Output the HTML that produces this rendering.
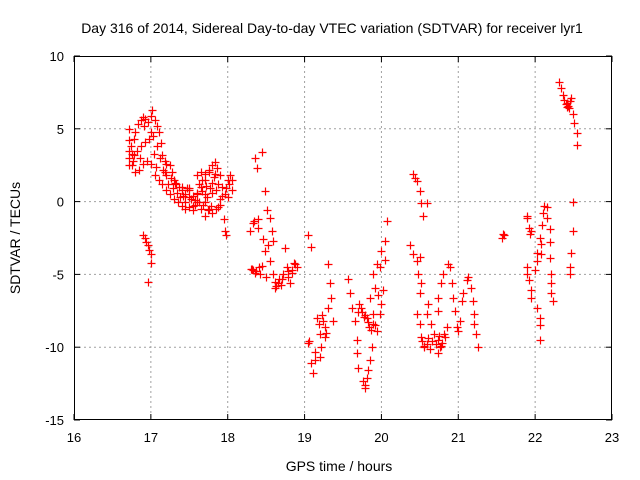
<!DOCTYPE html>
<html><head><meta charset="utf-8"><style>
html,body{margin:0;padding:0;background:#fff}
svg{display:block;font-family:"Liberation Sans",sans-serif}
</style></head><body>
<svg id="chart" width="640" height="480">
<rect x="0" y="0" width="640" height="480" fill="#fff"/>
<text x="332" y="33" font-size="14" text-anchor="middle">Day 316 of 2014, Sidereal Day-to-day VTEC variation (SDTVAR) for receiver lyr1</text>
<g id="grid"></g>
<g id="axes"></g>
<g id="points"></g>
<text x="339" y="471" font-size="14" text-anchor="middle">GPS time / hours</text>
<text x="0" y="0" font-size="14" text-anchor="middle" transform="translate(20,238) rotate(-90)">SDTVAR / TECUs</text>
</svg>
<script>
const xTicks = [16,17,18,19,20,21,22,23];
const yTicks = [10,5,0,-5,-10,-15];
const seriesHours = [
16.72,16.72,16.72,16.72,16.72,16.75,16.78,16.8,16.83,16.87,16.9,16.93,16.96,17.0,17.02,17.05,17.08,17.1,17.13,17.15,17.18,17.2,17.25,17.28,17.3,17.33,17.36,17.4,17.45,17.5,17.55,17.6,17.65,17.7,17.75,17.8,17.83,17.86,17.9,17.93,17.96,18.0,18.03,18.05,
16.75,16.8,16.85,16.9,16.95,17.0,17.05,17.1,17.15,17.2,17.25,17.3,17.35,17.4,17.45,17.5,17.55,17.6,17.65,17.7,17.75,17.8,17.85,17.9,17.95,17.97,17.98,
16.78,16.82,16.87,16.92,16.97,17.0,17.03,17.08,17.12,17.16,17.2,17.26,17.32,17.4,17.5,17.6,17.7,17.8,17.9,17.6,17.65,17.7,17.75,17.8,17.85,17.45,17.55,17.7,18.0,18.05,
16.9,16.92,16.94,16.96,16.98,17.0,17.0,16.96,
16.74,16.77,16.86,16.91,17.04,17.07,17.18,17.22,17.29,17.34,17.38,17.42,17.47,17.52,17.57,17.62,17.67,17.72,17.77,17.82,17.87,17.92,17.62,17.68,17.73,17.78,17.84,17.5,17.58,17.66,17.74,17.88,17.98,18.02,
18.44,18.35,18.38,18.48,18.51,18.55,18.33,18.39,18.29,18.57,18.59,18.48,18.55,18.74,18.33,18.42,18.59,18.65,18.77,18.83,18.81,18.3,18.36,18.45,18.5,18.62,18.7,18.78,18.86,18.9,
18.32,18.37,18.41,18.61,18.63,18.67,18.69,18.72,18.79,18.84,18.88,18.52,18.46,18.4,18.34,
19.04,19.09,19.3,19.33,19.35,19.3,19.24,19.2,19.04,19.09,19.11,19.2,19.16,19.37,19.06,19.13,19.27,19.22,
19.23,19.26,19.28,19.19,19.14,
19.56,19.59,19.62,19.65,19.68,19.68,19.69,19.76,19.78,19.73,19.81,19.89,19.94,19.88,19.85,19.82,19.81,19.89,19.85,19.91,19.89,19.94,19.98,20.0,20.04,20.07,20.02,20.0,19.98,20.05,19.7,19.77,19.84,
19.71,19.75,19.79,19.83,19.87,19.92,19.96,19.79,
20.41,20.46,20.5,20.52,20.54,20.59,20.37,20.41,20.46,20.5,20.48,20.52,20.5,20.46,20.5,20.52,20.59,20.63,20.59,20.6,20.65,20.69,20.73,20.76,20.73,20.82,20.85,20.73,20.73,20.78,20.8,20.86,20.89,20.92,20.93,20.96,20.98,21.0,21.02,21.05,21.06,21.11,21.12,21.17,21.19,21.21,21.21,21.23,21.25,20.44,20.55,
20.53,20.56,20.61,20.66,20.71,20.75,20.79,20.83,20.77,
21.57,21.58,21.6,
21.89,21.9,21.92,21.95,21.93,21.89,21.9,21.92,21.95,21.95,22.0,22.02,22.03,22.06,22.09,22.1,22.12,22.15,22.16,22.19,22.19,22.19,22.21,22.21,22.21,22.23,22.03,22.06,22.06,22.06,22.07,22.08,
22.31,22.33,22.36,22.4,22.42,22.45,22.47,22.49,22.51,22.54,22.54,22.38,22.43,22.49,22.49,22.47,22.46,22.46,22.41,22.44
];
const seriesValues = [
5.0,4.2,3.5,3.0,2.5,3.3,4.3,4.8,5.3,5.6,5.8,5.7,5.5,5.9,6.3,5.6,5.2,4.8,4.0,3.2,2.8,2.6,2.5,2.0,1.5,1.2,1.0,0.8,0.5,0.3,0.4,0.5,1.0,1.5,2.0,2.5,2.7,2.3,1.8,1.0,0.5,1.5,1.8,1.5,
2.5,2.0,2.2,2.6,2.8,2.6,1.8,1.5,1.2,0.8,0.5,0.2,0.0,-0.3,-0.5,-0.4,-0.3,0.0,-0.5,0.0,-0.5,-0.8,-0.5,-0.2,-1.2,-2.0,-2.3,
3.2,3.5,3.8,4.1,4.3,4.8,4.5,3.8,3.0,2.2,1.8,1.6,1.3,1.0,0.8,0.6,0.5,0.6,0.2,1.8,2.0,1.9,2.2,1.3,0.8,0.0,-0.6,-1.0,0.3,0.8,
-2.3,-2.5,-2.8,-3.0,-3.3,-3.6,-4.2,-5.5,
3.8,2.8,3.0,5.2,3.3,2.4,2.0,1.2,0.9,0.6,0.3,0.4,0.9,0.2,0.1,1.2,0.7,1.1,0.9,1.7,1.2,0.4,0.0,-0.2,0.3,-0.3,1.9,0.9,-0.2,1.5,-0.6,-0.4,0.9,1.2,
3.4,3.0,2.3,0.75,-0.6,-1.1,-1.5,-1.8,-2.0,-2.0,-2.7,-3.4,-4.1,-3.2,-4.7,-5.0,-5.0,-5.6,-4.5,-4.7,-5.6,-4.6,-4.9,-4.4,-5.2,-5.9,-5.3,-4.8,-4.2,-4.5,
-4.6,-4.8,-4.5,-5.5,-5.8,-5.3,-5.7,-5.0,-5.2,-4.9,-4.3,-3.0,-2.6,-1.2,-1.3,
-2.3,-3.1,-4.3,-5.6,-6.6,-7.3,-8.2,-9.1,-9.7,-11.1,-11.8,-10.7,-8.0,-8.2,-9.6,-10.3,-9.3,-10.0,
-7.8,-8.6,-9.0,-8.4,-10.9,
-5.3,-6.3,-7.3,-8.2,-9.5,-10.4,-11.4,-12.3,-12.8,-7.3,-8.0,-8.4,-8.9,-10.0,-10.9,-11.6,-12.1,-7.7,-6.6,-5.9,-5.0,-4.3,-4.5,-3.4,-2.7,-1.3,-6.1,-7.0,-7.7,-4.0,-7.6,-7.9,-8.6,
-7.0,-7.6,-7.8,-8.3,-8.8,-8.5,-6.4,-12.6,
1.9,1.4,0.75,-0.1,-1.0,-0.1,-3.0,-3.6,-4.1,-3.8,-5.0,-5.6,-6.3,-7.7,-8.4,-9.3,-9.8,-10.1,-7.7,-7.0,-8.4,-9.1,-9.5,-10.0,-10.4,-9.1,-8.6,-7.5,-6.6,-5.6,-5.0,-4.3,-4.5,-5.6,-6.6,-7.5,-8.6,-8.9,-8.2,-6.8,-6.3,-5.4,-5.2,-5.9,-6.8,-7.7,-8.4,-9.1,-10.0,1.6,-9.9,
-9.6,-10.0,-9.4,-9.6,-9.8,-9.2,-9.7,-9.3,-9.9,
-2.5,-2.2,-2.3,
-1.0,-1.1,-1.8,-2.0,-2.2,-4.5,-5.0,-5.4,-6.1,-6.6,-4.7,-4.1,-3.5,-2.5,-1.6,-0.8,-0.3,-0.4,-1.1,-1.9,-2.8,-3.9,-5.0,-5.6,-6.3,-6.8,-7.3,-8.0,-8.5,-9.5,-2.9,-3.6,
8.2,7.8,7.3,6.7,6.5,6.9,7.1,6.0,5.4,4.7,3.9,7.0,6.6,-0.05,-2.0,-3.5,-4.5,-5.0,6.8,6.4
];
const NS='http://www.w3.org/2000/svg';
const L=74,R=612,T=56,B=420;
function xs(h){return L+(h-16)/(23-16)*(R-L);}
function ys(v){return T+(10-v)/(25)*(B-T);}
function mk(tag,attrs,parent){const e=document.createElementNS(NS,tag);for(const k in attrs)e.setAttribute(k,attrs[k]);parent.appendChild(e);return e;}
const grid=document.getElementById('grid'),axes=document.getElementById('axes'),pts=document.getElementById('points');
xTicks.forEach(t=>{
  const x=xs(t);
  if(t>16&&t<23){const g=mk('line',{x1:x,y1:T,x2:x,y2:B,stroke:'#a0a0a0','stroke-dasharray':'2,3','stroke-width':1},grid);
  
  }
  mk('line',{x1:x,y1:B,x2:x,y2:B-6,stroke:'#000'},axes);
  mk('line',{x1:x,y1:T,x2:x,y2:T+6,stroke:'#000'},axes);
  const lab=mk('text',{x:x,y:B+22,'font-size':13,'text-anchor':'middle'},axes);
  lab.textContent=t;
  
  
});
yTicks.forEach(t=>{
  const y=ys(t);
  if(t<10&&t>-15){const g=mk('line',{x1:L,y1:y,x2:R,y2:y,stroke:'#a0a0a0','stroke-dasharray':'2,3','stroke-width':1},grid);
  
  }
  mk('line',{x1:L,y1:y,x2:L+6,y2:y,stroke:'#000'},axes);
  mk('line',{x1:R,y1:y,x2:R-6,y2:y,stroke:'#000'},axes);
  const lab=mk('text',{x:L-10,y:y+5,'font-size':13,'text-anchor':'end'},axes);
  lab.textContent=t;
  
  
});
const frame=mk('rect',{x:L+0.5,y:T+0.5,width:R-L-1,height:B-T-1,fill:'none',stroke:'#000'},axes);


for(let i=0;i<seriesHours.length;i++){
  const x=Math.round(xs(seriesHours[i]))+0.5,y=Math.round(ys(seriesValues[i]))+0.5;
  const p=mk('path',{d:`M${x-4},${y}H${x+4}M${x},${y-4}V${y+4}`,stroke:'#ff0000','stroke-width':1.2,fill:'none'},pts);
  
  
}
</script>
</body></html>
